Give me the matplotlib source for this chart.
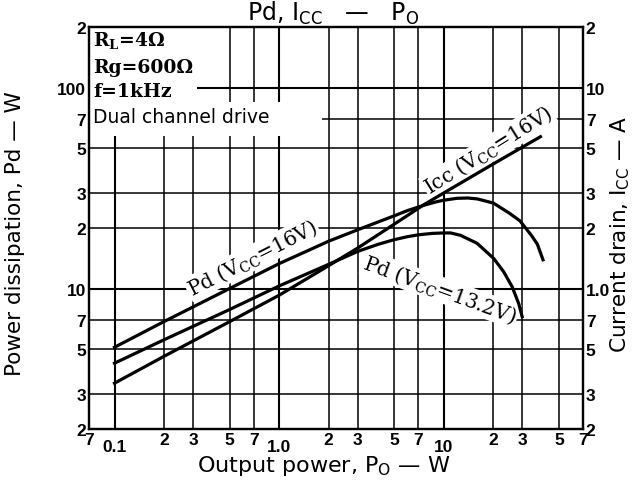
import matplotlib
matplotlib.use('Agg')
import matplotlib.pyplot as plt
from matplotlib.ticker import FixedLocator, FixedFormatter
from matplotlib.patches import Rectangle

plt.rcParams['font.family'] = ['Liberation Sans', 'DejaVu Sans']
plt.rcParams['mathtext.fontset'] = 'custom'
plt.rcParams['mathtext.rm'] = 'DejaVu Serif'
plt.rcParams['mathtext.bf'] = 'DejaVu Serif:bold'
plt.rcParams['mathtext.sf'] = 'DejaVu Sans'

# Pd at Vcc = 16 V  (output power W, dissipation W)
pd16_po = [0.1, 0.2, 0.5, 1.0, 2.0, 3.0, 5.0, 6.0, 7.5, 9.0, 10, 12, 14, 16, 20, 25, 29, 34, 37, 40]
pd16_w = [5.1, 6.85, 10.0, 13.3, 17.2, 19.6, 23.0, 24.4, 25.9, 27.0, 27.5, 28.1, 28.2, 27.9, 26.6, 23.7, 21.7, 18.4, 16.6, 13.9]

# Pd at Vcc = 13.2 V
pd13_po = [0.1, 0.2, 0.5, 1.0, 2.0, 3.0, 4.0, 5.0, 6.0, 7.0, 8.5, 10, 11, 12.6, 15.9, 20.1, 23.1, 26.0, 28.5, 29.9]
pd13_w = [4.25, 5.56, 7.86, 10.3, 13.2, 15.3, 16.6, 17.5, 18.1, 18.5, 18.8, 18.9, 18.9, 18.4, 16.8, 14.1, 12.1, 10.2, 8.4, 7.24]

# Icc at Vcc = 16 V (A, right axis)
icc_po = [0.1, 0.2, 0.5, 1.0, 2.0, 3.0, 5.0, 7.5, 10, 20, 38.6]
icc_a = [0.338, 0.46, 0.684, 0.926, 1.30, 1.59, 2.09, 2.60, 2.99, 4.17, 5.69]

x_major = [0.1, 1, 10]
x_major_lbl = ['0.1', '1.0', '10']
x_minor = [0.07, 0.2, 0.3, 0.5, 0.7, 2, 3, 5, 7, 20, 30, 50, 70]
x_minor_lbl = ['7', '2', '3', '5', '7', '2', '3', '5', '7', '2', '3', '5', '7']

yl_major = [10, 100]
yl_major_lbl = ['10', '100']
yl_minor = [2, 3, 5, 7, 20, 30, 50, 70, 200]
yl_minor_lbl = ['2', '3', '5', '7', '2', '3', '5', '7', '2']

yr_major = [1, 10]
yr_major_lbl = ['1.0', '10']
yr_minor = [0.2, 0.3, 0.5, 0.7, 2, 3, 5, 7, 20]
yr_minor_lbl = ['2', '3', '5', '7', '2', '3', '5', '7', '2']

fig = plt.figure(figsize=(6.32, 4.81), dpi=100)
ax = fig.add_axes([89/632, 1-430/481, 494/632, 402/481])
ax.set_xscale('log')
ax.set_yscale('log')
ax.set_xlim(0.07, 70)
ax.set_ylim(2, 200)

ax.xaxis.set_major_locator(FixedLocator(x_major))
ax.xaxis.set_major_formatter(FixedFormatter(x_major_lbl))
ax.xaxis.set_minor_locator(FixedLocator(x_minor))
ax.xaxis.set_minor_formatter(FixedFormatter(x_minor_lbl))
ax.yaxis.set_major_locator(FixedLocator(yl_major))
ax.yaxis.set_major_formatter(FixedFormatter(yl_major_lbl))
ax.yaxis.set_minor_locator(FixedLocator(yl_minor))
ax.yaxis.set_minor_formatter(FixedFormatter(yl_minor_lbl))

ax.tick_params(which='both', length=0, labelsize=12.5)
ax.tick_params(axis='x', which='major', pad=7.5)
ax.tick_params(axis='x', which='minor', pad=2)
ax.tick_params(axis='y', which='both', pad=2)
for lbl in ax.get_xticklabels(which='both') + ax.get_yticklabels(which='both'):
    lbl.set_fontweight('bold')

ax.set_axisbelow(True)
ax.grid(which='major', color='black', lw=1.5)
ax.grid(which='minor', color='black', lw=1.1)
for s in ax.spines.values():
    s.set_linewidth(1.6)

# blank areas behind the condition notes
ax.add_patch(Rectangle((0, 0.729), 0.219, 0.271, transform=ax.transAxes,
                       facecolor='white', edgecolor='none', zorder=1.5))
ax.add_patch(Rectangle((0, 0.729), 0.472, 0.085, transform=ax.transAxes,
                       facecolor='white', edgecolor='none', zorder=1.5))

ax.plot(pd16_po, pd16_w, color='black', lw=2.3, zorder=4)
ax.plot(pd13_po, pd13_w, color='black', lw=2.3, zorder=4)

ax2 = ax.twinx()
ax2.set_yscale('log')
ax2.set_ylim(0.2, 20)
ax2.yaxis.set_major_locator(FixedLocator(yr_major))
ax2.yaxis.set_major_formatter(FixedFormatter(yr_major_lbl))
ax2.yaxis.set_minor_locator(FixedLocator(yr_minor))
ax2.yaxis.set_minor_formatter(FixedFormatter(yr_minor_lbl))
ax2.tick_params(which='both', length=0, labelsize=12.5, pad=2)
for lbl in ax2.get_yticklabels(which='both'):
    lbl.set_fontweight('bold')
for s in ax2.spines.values():
    s.set_linewidth(1.6)
ax2.plot(icc_po, icc_a, color='black', lw=2.3, zorder=4)

serif = 'DejaVu Serif'
box = dict(facecolor='white', edgecolor='none', pad=1)
ax.text(0.685, 14.2, 'Pd (V$_\\mathrm{CC}$=16V)', family=serif, fontsize=14.5,
        rotation=27, ha='center', va='center', bbox=box, zorder=3)
ax.text(18.6, 48.9, 'Icc (V$_\\mathrm{CC}$=16V)', family=serif, fontsize=14.5,
        rotation=32, ha='center', va='center', bbox=box, zorder=3)
ax.text(9.5, 9.9, 'Pd (V$_\\mathrm{CC}$=13.2V)', family=serif, fontsize=14.5,
        rotation=-20, ha='center', va='center', bbox=box, zorder=3)

ax.text(0.008, 0.966, 'R$_\\mathbf{L}$=4Ω', transform=ax.transAxes, family=serif,
        fontweight='bold', fontsize=13.5, va='center', zorder=3)
ax.text(0.008, 0.9005, 'Rg=600Ω', transform=ax.transAxes, family=serif,
        fontweight='bold', fontsize=13.5, va='center', zorder=3)
ax.text(0.008, 0.842, 'f=1kHz', transform=ax.transAxes, family=serif,
        fontweight='bold', fontsize=13.5, va='center', zorder=3)
ax.text(0.008, 0.7786, 'Dual channel drive', transform=ax.transAxes, family='DejaVu Sans',
        fontsize=13.5, va='center', zorder=3)

sans = 'DejaVu Sans'
fig.text(333/632, 1-13/481, 'Pd, I$_\\mathsf{CC}$   —   P$_\\mathsf{O}$', family=sans, fontsize=17,
         ha='center', va='center')
fig.text(324/632, 1-466/481, 'Output power, P$_\\mathsf{O}$ — W', family=sans, fontsize=16,
         ha='center', va='center')
fig.text(15/632, 1-234/481, 'Power dissipation, Pd — W', family=sans, fontsize=15.5,
         ha='center', va='center', rotation=90)
fig.text(620/632, 1-234/481, 'Current drain, I$_\\mathsf{CC}$ — A', family=sans, fontsize=15.5,
         ha='center', va='center', rotation=90)

fig.savefig('out.png', dpi=100)
